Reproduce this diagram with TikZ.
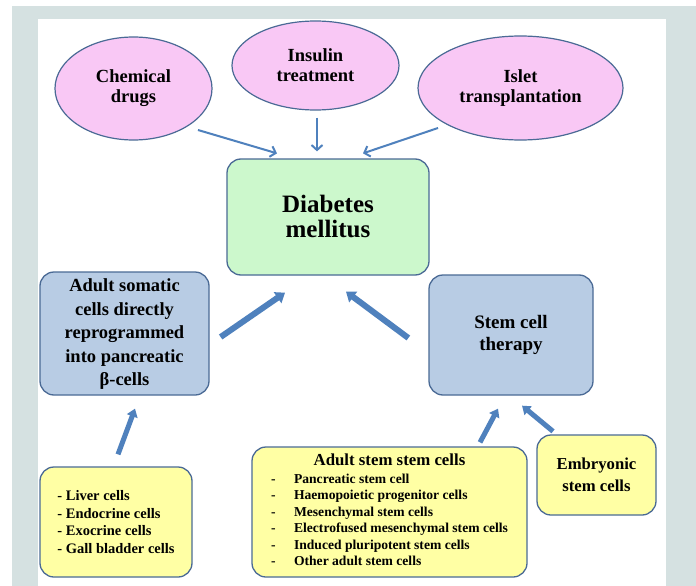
\documentclass[tikz,border=0pt]{standalone}
\usepackage{fontspec}
\setmainfont{Liberation Serif}
\usetikzlibrary{shapes.geometric,arrows.meta,calc}
\definecolor{bggray}{HTML}{D5E1E1}
\definecolor{pinkf}{HTML}{F9C8F5}
\definecolor{edgec}{HTML}{4A6A95}
\definecolor{greenf}{HTML}{CCF8CC}
\definecolor{bluef}{HTML}{B8CCE4}
\definecolor{yellowf}{HTML}{FFFFA4}
\definecolor{arrowc}{HTML}{4F81BD}
\begin{document}
\begin{tikzpicture}[x=1pt,y=-1pt,
  oval/.style={ellipse, draw=edgec, line width=1.2pt, fill=pinkf, inner sep=0pt,
    font=\bfseries\fontsize{18.5}{20}\selectfont, align=center},
  rbox/.style={rectangle, rounded corners=14pt, draw=edgec, line width=1.3pt,
    inner sep=0pt, align=center},
  thinarr/.style={draw=arrowc, line width=2pt, -{Straight Barb[length=5pt,width=11pt]}},
  thickarr/.style={draw=arrowc, line width=6pt, -{Triangle[length=9pt,width=13pt]}},
  smallarr/.style={draw=arrowc, line width=5pt, -{Triangle[length=8pt,width=11pt]}},
]
\fill[white] (0,0) rectangle (696,586);
\fill[bggray] (12,6) rectangle (696,586);
\fill[white] (38,19) rectangle (666,586);
\useasboundingbox (0,0) rectangle (696,586);

% ellipses
\node[oval, minimum width=157pt, minimum height=103pt] (chem) at (133.5,88.5) {Chemical\\drugs};
\node[oval, minimum width=167pt, minimum height=89pt] (ins) at (315.5,65.5) {Insulin\\treatment};
\node[oval, minimum width=205pt, minimum height=104pt] (isl) at (520.5,88) {Islet\\transplantation};

% central box
\node[rbox, fill=greenf, minimum width=202pt, minimum height=116pt,
  font=\bfseries\fontsize{25}{25}\selectfont] (dm) at (328,217) {\\[-8pt]Diabetes\\mellitus};

% blue boxes
\node[rbox, fill=bluef, minimum width=169pt, minimum height=123pt,
  font=\bfseries\fontsize{18.5}{23.5}\selectfont] (as) at (124.5,333.5)
  {\rule{0pt}{14pt}Adult somatic\\cells directly\\reprogrammed\\into pancreatic\\β-cells};
\node[rbox, fill=bluef, minimum width=164pt, minimum height=120pt,
  font=\bfseries\fontsize{19}{22}\selectfont] (sct) at (511,335) {Stem cell\\therapy};

% yellow boxes
\node[rbox, fill=yellowf, minimum width=152pt, minimum height=110pt, align=left,
  font=\bfseries\fontsize{14.5}{17.5}\selectfont] (lv) at (116,522)
  {- Liver cells\\- Endocrine cells\\- Exocrine cells\\- Gall bladder cells};
\node[rbox, fill=yellowf, minimum width=275pt, minimum height=130pt,
  font=\bfseries\fontsize{13.6}{16.5}\selectfont] (asc) at (389.5,512)
  {\begin{tabular}{@{}l@{}}
   \multicolumn{1}{@{}c@{}}{\fontsize{16.8}{16.5}\selectfont Adult stem stem cells}\\[1.5pt]
   \makebox[23pt][l]{-}Pancreatic stem cell\\
   \makebox[23pt][l]{-}Haemopoietic progenitor cells\\
   \makebox[23pt][l]{-}Mesenchymal stem cells\\
   \makebox[23pt][l]{-}Electrofused mesenchymal stem cells\\
   \makebox[23pt][l]{-}Induced pluripotent stem cells\\
   \makebox[23pt][l]{-}Other adult stem cells
  \end{tabular}};
\node[rbox, fill=yellowf, minimum width=119pt, minimum height=80pt,
  font=\bfseries\fontsize{16.7}{21.7}\selectfont] (emb) at (596.5,475) {Embryonic\\stem cells};

% thin arrows
\draw[thinarr] ($(chem.center)+(64.5,41.5)$) -- ($(dm.north)+(-51,-5)$);
\draw[thinarr] ($(ins.south)+(1.5,7)$) -- ($(dm.north)+(-11,-7)$);
\draw[thinarr] ($(isl.center)+(-82.5,40)$) -- ($(dm.north)+(35,-5)$);

% thick arrows
\draw[thickarr] ($(as.east)+(11,3.5)$) -- ($(dm.south)+(-43,17)$);
\draw[thickarr] ($(sct.west)+(-20,3)$) -- ($(dm.south)+(18,16)$);
\draw[smallarr] ($(lv.north)+(2,-12)$) -- ($(as.south)+(10.5,13)$);
\draw[smallarr] ($(asc.north)+(90.5,-4)$) -- ($(sct.south)+(-13,13)$);
\draw[smallarr] ($(emb.north)+(-43.5,-3)$) -- ($(sct.south)+(11,10)$);
\end{tikzpicture}
\end{document}
